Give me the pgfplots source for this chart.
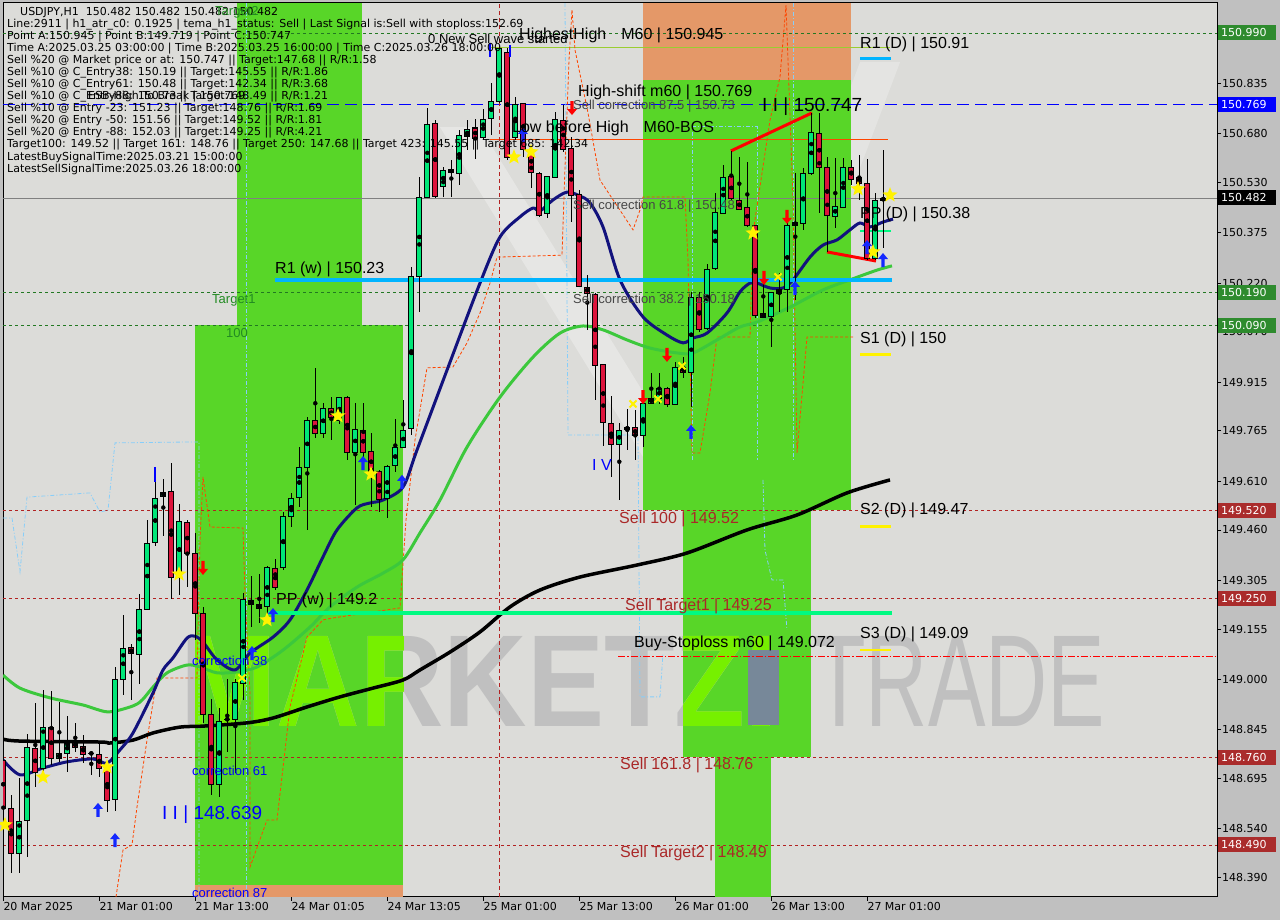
\documentclass[border=0pt]{standalone}
\usepackage{fontspec}
\setmainfont{Liberation Sans}
\newfontfamily\dejavu{DejaVu Sans}
\usepackage{graphicx}
\usepackage{pgfplots}
\usepackage{pgfplotstable}
\pgfplotsset{compat=1.18}

\definecolor{outbg}{RGB}{192,192,192}
\definecolor{plotbg}{RGB}{220,220,217}
\definecolor{zgreen}{RGB}{88,214,40}
\definecolor{zlight}{RGB}{118,240,0}
\definecolor{zorange}{RGB}{228,152,104}
\definecolor{cup}{RGB}{0,230,120}
\definecolor{cdn}{RGB}{220,20,60}
\definecolor{navyma}{RGB}{18,18,125}
\definecolor{greenma}{RGB}{60,200,60}
\definecolor{lvlgreen}{RGB}{34,120,34}
\definecolor{lvlred}{RGB}{178,34,34}
\definecolor{boxgreen}{RGB}{46,139,46}
\definecolor{boxred}{RGB}{170,44,44}
\definecolor{skyb}{RGB}{0,180,255}
\definecolor{sprg}{RGB}{0,250,130}
\definecolor{ltblue}{RGB}{135,206,250}
\definecolor{orred}{RGB}{255,69,0}
\definecolor{ygreen}{RGB}{154,205,50}
\definecolor{wmark}{RGB}{192,192,192}
\definecolor{slate}{RGB}{119,136,153}
\definecolor{lblred}{RGB}{170,40,40}
\definecolor{lblgreen}{RGB}{34,139,34}
\definecolor{corr}{RGB}{70,70,70}
\definecolor{arblue}{RGB}{20,40,255}

\newcommand\tickfont{\dejavu\fontsize{11}{12}\selectfont}
\newcommand\infofont{\dejavu\fontsize{11}{12}\selectfont}
\newcommand\bigfont{\fontsize{16}{18}\selectfont}
\newcommand\corrfont{\fontsize{13}{15}\selectfont}

% filled five-point star
\pgfdeclareplotmark{fstar}{%
  \pgfpathmoveto{\pgfpointpolar{90}{\pgfplotmarksize}}%
  \pgfpathlineto{\pgfpointpolar{126}{0.42\pgfplotmarksize}}%
  \pgfpathlineto{\pgfpointpolar{162}{\pgfplotmarksize}}%
  \pgfpathlineto{\pgfpointpolar{198}{0.42\pgfplotmarksize}}%
  \pgfpathlineto{\pgfpointpolar{234}{\pgfplotmarksize}}%
  \pgfpathlineto{\pgfpointpolar{270}{0.42\pgfplotmarksize}}%
  \pgfpathlineto{\pgfpointpolar{306}{\pgfplotmarksize}}%
  \pgfpathlineto{\pgfpointpolar{342}{0.42\pgfplotmarksize}}%
  \pgfpathlineto{\pgfpointpolar{18}{\pgfplotmarksize}}%
  \pgfpathlineto{\pgfpointpolar{54}{0.42\pgfplotmarksize}}%
  \pgfpathclose\pgfusepathqfill}
% fat arrows
\pgfdeclareplotmark{upar}{%
  \pgfpathmoveto{\pgfqpoint{0pt}{7pt}}%
  \pgfpathlineto{\pgfqpoint{5pt}{1pt}}%
  \pgfpathlineto{\pgfqpoint{1.6pt}{1pt}}%
  \pgfpathlineto{\pgfqpoint{1.6pt}{-7pt}}%
  \pgfpathlineto{\pgfqpoint{-1.6pt}{-7pt}}%
  \pgfpathlineto{\pgfqpoint{-1.6pt}{1pt}}%
  \pgfpathlineto{\pgfqpoint{-5pt}{1pt}}%
  \pgfpathclose\pgfusepathqfill}
\pgfdeclareplotmark{dnar}{%
  \pgfpathmoveto{\pgfqpoint{0pt}{-7pt}}%
  \pgfpathlineto{\pgfqpoint{5pt}{-1pt}}%
  \pgfpathlineto{\pgfqpoint{1.6pt}{-1pt}}%
  \pgfpathlineto{\pgfqpoint{1.6pt}{7pt}}%
  \pgfpathlineto{\pgfqpoint{-1.6pt}{7pt}}%
  \pgfpathlineto{\pgfqpoint{-1.6pt}{-1pt}}%
  \pgfpathlineto{\pgfqpoint{-5pt}{-1pt}}%
  \pgfpathclose\pgfusepathqfill}

% USDJPY H1 candles, i = hour index from 20 Mar 13:00
\pgfplotstableread{
i o h l c
0 148.752 148.767 148.444 148.604
1 148.604 148.644 148.404 148.465
2 148.465 148.699 148.404 148.564
3 148.567 148.832 148.453 148.792
4 148.786 148.927 148.669 148.712
5 148.727 148.967 148.712 148.853
6 148.853 148.964 148.736 148.758
7 148.758 148.930 148.746 148.773
8 148.773 148.887 148.715 148.804
9 148.807 148.866 148.776 148.792
10 148.795 148.829 148.742 148.770
11 148.773 148.776 148.706 148.773
12 148.770 148.801 148.699 148.727
13 148.727 148.746 148.592 148.629
14 148.632 149.038 148.595 149.001
15 149.001 149.198 148.952 149.097
16 149.097 149.109 148.936 149.078
17 149.078 149.263 148.986 149.217
18 149.217 149.491 149.214 149.420
19 149.420 149.654 149.411 149.558
20 149.565 149.617 149.441 149.577
21 149.580 149.669 149.250 149.315
22 149.315 149.540 149.260 149.488
23 149.484 149.491 149.284 149.389
24 149.389 149.451 149.121 149.204
25 149.204 149.223 148.866 148.893
26 148.893 148.940 148.644 148.678
27 148.675 148.912 148.639 148.869
28 148.878 149.001 148.776 148.878
29 148.875 149.001 148.712 148.989
30 148.989 149.266 148.936 149.247
31 149.244 149.318 149.161 149.232
32 149.232 149.324 149.173 149.220
33 149.223 149.349 149.173 149.343
34 149.340 149.371 149.275 149.284
35 149.346 149.515 149.337 149.503
36 149.503 149.574 149.469 149.558
37 149.561 149.718 149.531 149.654
38 149.654 149.808 149.460 149.798
39 149.798 149.959 149.743 149.758
40 149.758 149.851 149.743 149.835
41 149.835 149.869 149.737 149.808
42 149.798 149.872 149.789 149.869
43 149.869 149.872 149.675 149.700
44 149.700 149.851 149.537 149.771
45 149.768 149.851 149.675 149.700
46 149.703 149.758 149.531 149.638
47 149.641 149.645 149.515 149.555
48 149.558 149.660 149.497 149.657
49 149.657 149.802 149.638 149.715
50 149.715 149.860 149.712 149.768
51 149.771 150.270 149.752 150.239
52 150.239 150.547 150.131 150.485
53 150.485 150.759 150.485 150.710
54 150.713 150.722 150.482 150.488
55 150.519 150.577 150.485 150.568
56 150.571 150.599 150.485 150.559
57 150.559 150.691 150.522 150.676
58 150.673 150.722 150.630 150.694
59 150.698 150.728 150.605 150.667
60 150.667 150.756 150.661 150.725
61 150.728 150.836 150.676 150.781
62 150.781 150.945 150.774 150.944
63 150.932 150.944 150.599 150.608
64 150.667 150.793 150.661 150.771
65 150.774 150.774 150.608 150.630
66 150.630 150.639 150.513 150.562
67 150.559 150.562 150.424 150.430
68 150.433 150.550 150.420 150.547
69 150.547 150.747 150.544 150.725
70 150.722 150.768 150.624 150.630
71 150.633 150.670 150.408 150.491
72 150.494 150.507 150.208 150.211
73 150.208 150.245 150.076 150.190
74 150.186 150.190 149.860 149.968
75 149.968 149.968 149.718 149.792
76 149.789 149.872 149.623 149.725
77 149.725 149.789 149.552 149.768
78 149.771 149.832 149.706 149.777
79 149.777 149.829 149.675 149.752
80 149.752 149.875 149.715 149.851
81 149.851 149.943 149.848 149.866
82 149.866 149.943 149.848 149.897
83 149.897 149.900 149.839 149.848
84 149.848 149.977 149.845 149.962
85 149.962 149.992 149.928 149.946
86 149.946 150.193 149.839 150.177
87 150.177 150.193 150.069 150.079
88 150.079 150.279 150.076 150.263
89 150.263 150.497 150.260 150.436
90 150.436 150.584 150.436 150.547
91 150.547 150.627 150.476 150.479
92 150.476 150.608 150.445 150.448
93 150.454 150.593 150.393 150.399
94 150.399 150.399 150.113 150.122
95 150.128 150.245 150.113 150.116
96 150.116 150.193 150.023 150.190
97 150.190 150.251 150.131 150.202
98 150.202 150.405 150.131 150.399
99 150.399 150.559 150.168 150.408
100 150.405 150.574 150.384 150.559
101 150.559 150.744 150.553 150.685
102 150.682 150.744 150.436 150.577
103 150.577 150.608 150.316 150.427
104 150.427 150.605 150.390 150.457
105 150.454 150.605 150.451 150.577
106 150.577 150.599 150.522 150.541
107 150.544 150.614 150.476 150.528
108 150.528 150.602 150.291 150.297
109 150.297 150.497 150.291 150.476
110 150.476 150.630 150.331 150.482
}\candles

\begin{document}
\begin{tikzpicture}
\fill[outbg] (0pt,0pt) rectangle (1280pt,920pt);
\begin{axis}[
  at={(3pt,23pt)}, anchor=south west, scale only axis,
  width=1214pt, height=894pt,
  xmin=3, xmax=1217, ymin=148.3299, ymax=151.0824,
  axis background/.style={fill=plotbg},
  axis line style={black, line width=1pt},
  tick align=outside, major tick length=4pt,
  tick style={black, line width=0.8pt},
  xtick pos=left, ytick pos=right, yticklabel pos=right,
  xtick={3.3,99.3,195.3,291.3,387.3,483.3,579.3,675.3,771.3,867.3},
  xticklabels={20 Mar 2025,21 Mar 01:00,21 Mar 13:00,24 Mar 01:05,24 Mar 13:05,25 Mar 01:00,25 Mar 13:00,26 Mar 01:00,26 Mar 13:00,27 Mar 01:00},
  xticklabel style={font=\tickfont, anchor=north west, inner sep=0pt, yshift=-1pt},
  ytick={148.39,148.54,148.695,148.845,149,149.155,149.305,149.46,149.61,149.765,149.915,150.07,150.22,150.375,150.53,150.68,150.835},
  yticklabel style={font=\tickfont, anchor=west, inner sep=0pt, xshift=1pt,
    /pgf/number format/.cd, fixed, fixed zerofill, precision=3, assume math mode=true},
]
% faint background chevrons
\fill[white, opacity=0.3] (axis cs:440,150.70) -- (axis cs:480,150.70) -- (axis cs:700,149.60) -- (axis cs:660,149.60) -- cycle;
\fill[white, opacity=0.25] (axis cs:700,149.60) -- (axis cs:740,149.60) -- (axis cs:900,150.90) -- (axis cs:860,150.90) -- cycle;
% zones
\fill[zgreen] (axis cs:237,151.0824) rectangle (axis cs:362,150.091);
\fill[zgreen] (axis cs:195,150.091) rectangle (axis cs:403,148.367);
\fill[zorange] (axis cs:195,148.367) rectangle (axis cs:403,148.3299);
\fill[zorange] (axis cs:643,151.0824) rectangle (axis cs:851,150.845);
\fill[zgreen] (axis cs:643,150.845) rectangle (axis cs:851,149.521);
\fill[zgreen] (axis cs:683,149.521) rectangle (axis cs:811,148.761);
\fill[zgreen] (axis cs:715,148.761) rectangle (axis cs:771,148.3299);
% watermark
\node[anchor=south west, inner sep=0pt, text=wmark] at (axis cs:180,148.853) {\resizebox{597pt}{90pt}{\bfseries MARKETZI}};
\node[anchor=south west, inner sep=0pt, text=wmark] at (axis cs:813,148.853) {\resizebox{292pt}{90pt}{TRADE}};
\begin{scope}
\clip (axis cs:195,150.091) rectangle (axis cs:403,148.367);
\node[anchor=south west, inner sep=0pt, text=zlight] at (axis cs:180,148.853) {\resizebox{597pt}{90pt}{\bfseries MARKETZI}};
\end{scope}
\begin{scope}
\clip (axis cs:683,149.521) rectangle (axis cs:811,148.761);
\node[anchor=south west, inner sep=0pt, text=zlight] at (axis cs:180,148.853) {\resizebox{597pt}{90pt}{\bfseries MARKETZI}};
\end{scope}
\fill[slate] (axis cs:748,149.090) rectangle (axis cs:779,148.860);

% horizontal levels
\addplot[lvlgreen, dash pattern=on 3pt off 3pt, line width=0.8pt] coordinates {(3,150.99) (1217,150.99)};
\addplot[lvlgreen, dash pattern=on 3pt off 3pt, line width=0.8pt] coordinates {(3,150.19) (1217,150.19)};
\addplot[lvlgreen, dash pattern=on 3pt off 3pt, line width=0.8pt] coordinates {(3,150.09) (1217,150.09)};
\addplot[lvlred, dash pattern=on 3pt off 3pt, line width=0.8pt] coordinates {(3,149.52) (1217,149.52)};
\addplot[lvlred, dash pattern=on 3pt off 3pt, line width=0.8pt] coordinates {(3,149.25) (1217,149.25)};
\addplot[lvlred, dash pattern=on 3pt off 3pt, line width=0.8pt] coordinates {(3,148.76) (1217,148.76)};
\addplot[lvlred, dash pattern=on 3pt off 3pt, line width=0.8pt] coordinates {(3,148.49) (1217,148.49)};
\addplot[blue, dash pattern=on 12pt off 6pt, line width=1pt] coordinates {(3,150.769) (1217,150.769)};
\addplot[gray, line width=0.8pt] coordinates {(3,150.482) (1217,150.482)};
\addplot[red, dash pattern=on 7pt off 2pt on 1.5pt off 2pt, line width=0.8pt] coordinates {(618,149.072) (1217,149.072)};
\addplot[orred, line width=1pt] coordinates {(490,150.661) (888,150.661)};
\addplot[ygreen, line width=1pt] coordinates {(490,150.945) (890,150.945)};
\addplot[lvlred, dash pattern=on 4pt off 3pt, line width=0.8pt] coordinates {(499,148.3299) (499,151.0824)};

% light blue dashed envelope
\addplot[ltblue, dash pattern=on 4pt off 2pt on 1pt off 2pt, line width=0.8pt] coordinates {
(3,149.497) (12,149.497) (20,149.331) (27,149.561) (90,149.574) (100,149.515) (108,149.521) (115,149.728) (195,149.731) (199,149.731) (199,148.330)};
\addplot[ltblue, dash pattern=on 4pt off 2pt on 1pt off 2pt, line width=0.8pt] coordinates {(246,151.082) (246,148.330)};
\addplot[ltblue, dash pattern=on 4pt off 2pt on 1pt off 2pt, line width=0.8pt] coordinates {
(565,151.082) (568,149.752) (638,149.752) (640,148.946) (660,148.946) (663,149.081)};
\addplot[ltblue, dash pattern=on 4pt off 2pt on 1pt off 2pt, line width=0.8pt] coordinates {
(692,149.675) (692,150.701) (757,150.701) (757,149.675)};
\addplot[ltblue, dash pattern=on 4pt off 2pt on 1pt off 2pt, line width=0.8pt] coordinates {
(763,149.614) (765,149.398) (772,149.306) (783,149.306) (787,149.152)};
\addplot[ltblue, dash pattern=on 4pt off 2pt on 1pt off 2pt, line width=0.8pt] coordinates {(793,151.082) (793,149.675)};

% orange step line
\addplot[orred, dash pattern=on 3pt off 2pt, line width=0.8pt] coordinates {
(116,148.330) (123,148.475) (132,148.490) (137,148.607) (147,148.813) (157,149.004) (197,149.004)
(200,149.429) (203,149.623) (210,149.469) (243,149.466) (245,149.266) (250,148.958) (250,148.422)
(267,148.567) (277,148.567) (290,148.915) (307,149.130) (323,149.183) (333,149.189) (400,149.220)
(406,149.491) (415,149.737) (427,149.959) (453,149.962) (467,150.036) (480,150.128) (490,150.220)
(497,150.300) (562,150.306) (565,150.577) (569,150.907) (572,151.061) (575,150.938) (588,150.744)
(600,150.537) (633,150.384) (640,150.445) (643,150.485) (685,150.485) (688,150.291) (692,149.697)
(700,149.697) (710,149.882) (717,150.054) (750,150.054) (753,150.374) (770,150.722) (780,150.855)
(786,151.076) (793,150.476) (797,149.697) (807,150.054) (853,150.054)};

% moving averages
\addplot[black, line width=3.5pt, smooth, tension=0.5] coordinates {
(3,148.816) (20,148.810) (100,148.807) (110,148.804) (133,148.813) (153,148.835) (180,148.853)
(203,148.856) (247,148.866) (273,148.881) (307,148.915) (340,148.946) (373,148.973) (403,148.998)
(420,149.029) (450,149.084) (480,149.146) (510,149.223) (540,149.275) (580,149.315) (637,149.352)
(687,149.389) (747,149.460) (797,149.506) (847,149.574) (890,149.614)};
\addplot[greenma, line width=3pt, smooth, tension=0.5] coordinates {
(3,149.013) (20,148.973) (50,148.943) (83,148.921) (107,148.900) (127,148.912) (140,148.930)
(153,148.976) (167,149.020) (187,149.044) (200,149.038) (217,149.020) (237,149.023) (257,149.038)
(283,149.090) (310,149.161) (330,149.223) (357,149.284) (383,149.327) (403,149.368) (420,149.451)
(440,149.552) (467,149.715) (500,149.869) (533,149.992) (560,150.066) (583,150.088) (603,150.076)
(627,150.045) (650,150.020) (677,150.005) (693,150.005) (717,150.045) (740,150.085) (757,150.100)
(790,150.146) (823,150.199) (850,150.230) (877,150.260) (892,150.273)};
\addplot[navyma, line width=3pt, smooth, tension=0.5] coordinates {
(3,148.752) (20,148.706) (43,148.727) (67,148.746) (93,148.755) (107,148.742) (120,148.783)
(133,148.835) (153,148.958) (163,149.029) (173,149.066) (187,149.127) (195,149.133) (203,149.115)
(217,149.060) (235,149.029) (250,149.081) (273,149.130) (290,149.183) (307,149.275) (323,149.377)
(337,149.460) (357,149.528) (370,149.543) (383,149.552) (403,149.592) (417,149.706) (447,149.952)
(480,150.220) (500,150.362) (520,150.424) (533,150.451) (540,150.442) (553,150.476) (567,150.500)
(580,150.488) (590,150.467) (603,150.393) (620,150.230) (643,150.116) (667,150.060) (683,150.036)
(693,150.051) (707,150.066) (727,150.128) (740,150.193) (750,150.220) (757,150.220) (770,150.205)
(783,150.205) (793,150.230) (810,150.300) (823,150.337) (837,150.353) (850,150.384) (860,150.405)
(870,150.393) (883,150.408) (893,150.417)};

% weekly / daily pivots
\addplot[skyb, line width=4pt] coordinates {(275,150.229) (892,150.229)};
\addplot[sprg, line width=4pt] coordinates {(268,149.204) (892,149.204)};
\addplot[skyb, line width=3pt] coordinates {(860,150.91) (891,150.91)};
\addplot[sprg, line width=2.5pt] coordinates {(860,150.38) (891,150.38)};
\addplot[yellow, line width=2.5pt] coordinates {(860,150.0) (891,150.0)};
\addplot[yellow, line width=2.5pt] coordinates {(860,149.47) (891,149.47)};
\addplot[yellow, line width=2.5pt] coordinates {(860,149.09) (891,149.09)};
% trend lines
\addplot[red, line width=3pt] coordinates {(731,150.627) (812,150.744)};
\addplot[red, line width=3pt] coordinates {(827,150.316) (876,150.288)};

% candles: wicks, body outline, bodies
\addplot[only marks, mark=none, error bars/.cd, y dir=both, y explicit, error mark=none,
  error bar style={line width=1pt, black}]
  table[x expr={3.3+8*\thisrow{i}}, y expr={(\thisrow{h}+\thisrow{l})/2}, y error expr={(\thisrow{h}-\thisrow{l})/2}] {\candles};
\addplot[only marks, mark=none, error bars/.cd, y dir=both, y explicit, error mark=none,
  error bar style={line width=6pt, black}]
  table[x expr={3.3+8*\thisrow{i}}, y expr={(\thisrow{o}+\thisrow{c})/2}, y error expr={abs(\thisrow{c}-\thisrow{o})/2+0.00154}] {\candles};
\addplot[only marks, mark=none, restrict expr to domain={\thisrow{c}-\thisrow{o}}{0:5},
  error bars/.cd, y dir=both, y explicit, error mark=none, error bar style={line width=4pt, cup}]
  table[x expr={3.3+8*\thisrow{i}}, y expr={(\thisrow{o}+\thisrow{c})/2}, y error expr={max(abs(\thisrow{c}-\thisrow{o})/2-0.00154,0)}] {\candles};
\addplot[only marks, mark=none, restrict expr to domain={\thisrow{c}-\thisrow{o}}{-5:-0.00001},
  error bars/.cd, y dir=both, y explicit, error mark=none, error bar style={line width=4pt, cdn}]
  table[x expr={3.3+8*\thisrow{i}}, y expr={(\thisrow{o}+\thisrow{c})/2}, y error expr={max(abs(\thisrow{c}-\thisrow{o})/2-0.00154,0)}] {\candles};

% blue bar markers
\addplot[blue, line width=2pt] coordinates {(155,149.654) (155,149.608)};
\addplot[blue, line width=2pt] coordinates {(490,150.959) (490,150.916)};
\addplot[blue, line width=2pt] coordinates {(510,150.953) (510,150.916)};

% signals
\addplot[only marks, mark=fstar, mark size=8pt, yellow] coordinates {
(5,148.552) (43,148.699) (107,148.730) (179,149.324) (267,149.183) (338,149.811) (371,149.632)
(514,150.608) (531,150.624) (753,150.374) (858,150.510) (890,150.491) (873,150.316)};
\addplot[only marks, mark=x, mark size=5pt, yellow, line width=2pt] coordinates {
(242,149.004) (633,149.848) (658,149.863) (682,149.965) (778,150.239)};
\addplot[only marks, mark=upar, arblue] coordinates {
(98,148.598) (115,148.505) (252,149.081) (273,149.198) (363,149.666) (402,149.608) (523,150.676)
(691,149.762) (795,150.205) (867,150.331) (883,150.291)};
\addplot[only marks, mark=dnar, red] coordinates {
(203,149.343) (572,150.759) (643,149.869) (667,149.999) (787,150.424) (764,150.236)};
\end{axis}

\begin{scope}[x=1pt, y=1pt]
% info block
\begin{scope}[every node/.style={anchor=west, inner sep=0pt, font=\infofont}]
\node at (20,907) {USDJPY,H1\ \ 150.482 150.482 150.482 150.482};
\node at (7,895) {Line:2911 | h1\_atr\_c0: 0.1925 | tema\_h1\_status: Sell | Last Signal is:Sell with stoploss:152.69};
\node at (7,883) {Point A:150.945 | Point B:149.719 | Point C:150.747};
\node at (7,871) {Time A:2025.03.25 03:00:00 | Time B:2025.03.25 16:00:00 | Time C:2025.03.26 18:00:00};
\node at (7,859) {Sell \%20 @ Market price or at: 150.747 || Target:147.68 || R/R:1.58};
\node at (7,847) {Sell \%10 @ C\_Entry38: 150.19 || Target:145.55 || R/R:1.86};
\node at (7,835) {Sell \%10 @ C\_Entry61: 150.48 || Target:142.34 || R/R:3.68};
\node at (88,823) {ESB-High To Break | 150.769};
\node at (7,823) {Sell \%10 @ C\_Entry88: 150.73 || Target:148.49 || R/R:1.21};
\node at (7,811) {Sell \%10 @ Entry -23: 151.23 || Target:148.76 || R/R:1.69};
\node at (7,799) {Sell \%20 @ Entry -50: 151.56 || Target:149.52 || R/R:1.81};
\node at (7,787) {Sell \%20 @ Entry -88: 152.03 || Target:149.25 || R/R:4.21};
\node at (7,775) {Target100: 149.52 || Target 161: 148.76 || Target 250: 147.68 || Target 423: 145.55 || Target 685: 142.34};
\node at (7,763) {LatestBuySignalTime:2025.03.21 15:00:00};
\node at (7,751) {LatestSellSignalTime:2025.03.26 18:00:00};
\end{scope}

% chart labels
\begin{scope}[every node/.style={anchor=west, inner sep=0pt, font=\bigfont}]
\node at (519,885) {HighestHigh\hspace{15pt}M60 | 150.945};
\node at (578,828) {High-shift m60 | 150.769};
\node at (512,792) {Low before High\hspace{15pt}M60-BOS};
\node[font=\fontsize{19}{21}\selectfont] at (762,813) {I I | 150.747};
\node[font=\fontsize{13}{15}\selectfont] at (428,881) {0 New Sell wave started};
\node at (275,651) {R1 (w) | 150.23};
\node at (276,320) {PP (w) | 149.2};
\node at (860,876) {R1 (D) | 150.91};
\node at (860,706) {PP (D) | 150.38};
\node at (860,581) {S1 (D) | 150};
\node at (860,410) {S2 (D) | 149.47};
\node at (860,286) {S3 (D) | 149.09};
\node[text=lblred] at (619,401) {Sell 100 | 149.52};
\node[text=lblred] at (625,314) {Sell Target1 | 149.25};
\node at (634,277) {Buy-Stoploss m60 | 149.072};
\node[text=lblred] at (620,155) {Sell 161.8 | 148.76};
\node[text=lblred] at (620,67) {Sell Target2 | 148.49};
\node[text=blue, font=\fontsize{19}{21}\selectfont] at (162,105) {I I | 148.639};
\node[text=blue] at (592,455) {I V};
\end{scope}
\begin{scope}[every node/.style={anchor=west, inner sep=0pt, font=\corrfont}]
\node[text=corr] at (573,814) {Sell correction 87.5 | 150.73};
\node[text=corr] at (573,714) {Sell correction 61.8 | 150.48};
\node[text=corr] at (573,620) {Sell correction 38.2 | 150.18};
\node[text=lblgreen] at (212,620) {Target1};
\node[text=lblgreen] at (226,587) {100};
\node[text=lblgreen] at (215,908) {Target2};
\node[text=blue] at (192,259) {correction 38};
\node[text=blue] at (192,149) {correction 61};
\node[text=blue] at (192,27) {correction 87};
\end{scope}

% price boxes on the right scale
\newcommand\pbox[3]{%
  \fill[#2] (1218,{920-#1-7.5}) rectangle (1276,{920-#1+7.5});
  \node[anchor=west, inner sep=0pt, text=white, font=\tickfont] at (1221,{920-#1}) {#3};}
\pbox{33}{boxgreen}{150.990}
\pbox{104.8}{blue}{150.769}
\pbox{198}{black}{150.482}
\pbox{292.8}{boxgreen}{150.190}
\pbox{325.3}{boxgreen}{150.090}
\pbox{510.5}{boxred}{149.520}
\pbox{598.2}{boxred}{149.250}
\pbox{757.3}{boxred}{148.760}
\pbox{845}{boxred}{148.490}
\end{scope}

\pgfresetboundingbox
\path (0pt,0pt) rectangle (1280pt,920pt);
\end{tikzpicture}
\end{document}
